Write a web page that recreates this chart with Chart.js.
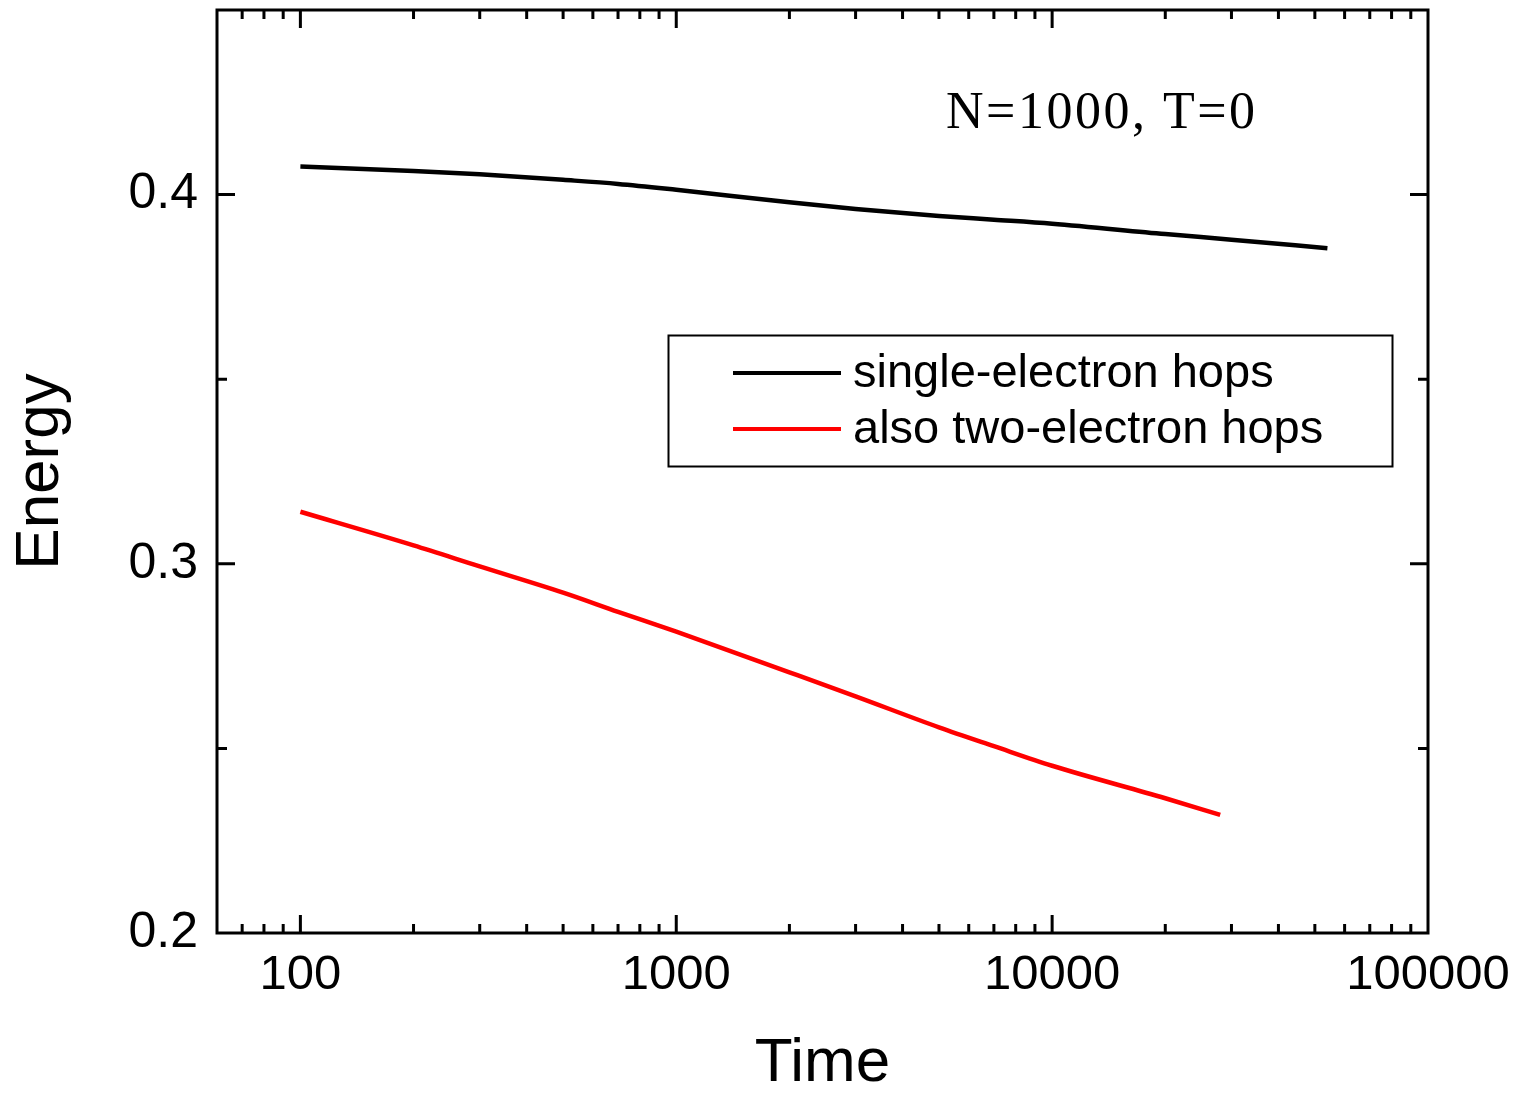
<!DOCTYPE html>
<html>
<head>
<meta charset="utf-8">
<script src="https://cdn.jsdelivr.net/npm/chart.js@4.4.1/dist/chart.umd.min.js"></script>
<style>
html,body{margin:0;padding:0;background:#fff;}
#wrap{width:1522px;height:1095px;position:relative;}
</style>
</head>
<body>
<div id="wrap"><canvas id="c" width="1522" height="1095"></canvas></div>
<script>
// ---- data ----
const timeSingle   = [100, 200, 300, 500, 700, 1000, 2000, 3000, 5000, 7000, 10000, 20000, 30000, 54000];
const energySingle = [0.4076, 0.4064, 0.4055, 0.4040, 0.4029, 0.4013, 0.3979, 0.3961, 0.3942, 0.3932, 0.3921, 0.3893, 0.3878, 0.3855];
const timeTwo      = [100, 200, 300, 500, 700, 1000, 2000, 3000, 5000, 7000, 10000, 20000, 28000];
const energyTwo    = [0.3141, 0.3050, 0.2993, 0.2922, 0.2870, 0.2816, 0.2706, 0.2641, 0.2557, 0.2506, 0.2453, 0.2365, 0.2320];
const seriesNames  = ['single-electron hops', 'also two-electron hops'];
const xTickLabels  = [100, 1000, 10000, 100000];
const xMinorTicks  = [60, 70, 80, 90, 200, 300, 400, 500, 600, 700, 800, 900,
                      2000, 3000, 4000, 5000, 6000, 7000, 8000, 9000,
                      20000, 30000, 40000, 50000, 60000, 70000, 80000, 90000];
const yTickLabels  = [0.2, 0.3, 0.4];
const yMinorTicks  = [0.25, 0.35];
const xTitle = 'Time';
const yTitle = 'Energy';
const annotationText = 'N=1000, T=0';

const SANS = '"Liberation Sans", Arial, sans-serif';
const SERIF = '"Liberation Serif", "Times New Roman", serif';

const frameTicks = {
  id: 'frameTicks',
  afterDatasetsDraw(chart) {
    const ctx = chart.ctx;
    const a = chart.chartArea;
    const xs = chart.scales.x, ys = chart.scales.y;
    ctx.save();
    ctx.strokeStyle = '#000';
    ctx.lineWidth = 3;
    ctx.lineCap = 'butt';
    ctx.strokeRect(a.left, a.top, a.right - a.left, a.bottom - a.top);
    ctx.beginPath();
    const xt = (vals, len) => vals.forEach(v => {
      const p = xs.getPixelForValue(v);
      if (p < a.left + 2 || p > a.right - 2) return;
      ctx.moveTo(p, a.bottom); ctx.lineTo(p, a.bottom - len);
      ctx.moveTo(p, a.top); ctx.lineTo(p, a.top + len);
    });
    const yt = (vals, len) => vals.forEach(v => {
      const p = ys.getPixelForValue(v);
      if (p < a.top + 2 || p > a.bottom - 2) return;
      ctx.moveTo(a.left, p); ctx.lineTo(a.left + len, p);
      ctx.moveTo(a.right, p); ctx.lineTo(a.right - len, p);
    });
    xt(xTickLabels, 18);
    xt(xMinorTicks, 9);
    yt(yTickLabels, 18);
    yt(yMinorTicks, 10);
    ctx.stroke();
    ctx.restore();
  }
};

const boxLegend = {
  id: 'boxLegend',
  afterDraw(chart) {
    const ctx = chart.ctx;
    ctx.save();
    ctx.strokeStyle = '#000';
    ctx.lineWidth = 2;
    ctx.strokeRect(668.5, 335.5, 724, 131);
    const rows = [374, 430];
    chart.data.datasets.forEach((ds, i) => {
      const y = rows[i];
      ctx.beginPath();
      ctx.strokeStyle = ds.borderColor;
      ctx.lineWidth = 4;
      ctx.moveTo(733, y - 1); ctx.lineTo(841, y - 1);
      ctx.stroke();
      ctx.fillStyle = '#000';
      ctx.font = '47px ' + SANS;
      ctx.textAlign = 'left';
      ctx.textBaseline = 'middle';
      ctx.fillText(ds.label, 853, y);
    });
    ctx.fillStyle = '#000';
    ctx.font = '52px ' + SERIF;
    try { ctx.letterSpacing = '2.5px'; } catch (e) {}
    ctx.textAlign = 'left';
    ctx.textBaseline = 'alphabetic';
    ctx.fillText(annotationText, 946, 128);
    ctx.restore();
  }
};

new Chart(document.getElementById('c'), {
  type: 'line',
  data: {
    datasets: [
      {
        label: seriesNames[0],
        data: timeSingle.map((t, i) => ({x: t, y: energySingle[i]})),
        borderColor: '#000000',
        backgroundColor: '#000000',
        borderWidth: 4.5,
        pointRadius: 0,
        cubicInterpolationMode: 'monotone',
        fill: false
      },
      {
        label: seriesNames[1],
        data: timeTwo.map((t, i) => ({x: t, y: energyTwo[i]})),
        borderColor: '#ff0000',
        backgroundColor: '#ff0000',
        borderWidth: 4.5,
        pointRadius: 0,
        cubicInterpolationMode: 'monotone',
        fill: false
      }
    ]
  },
  options: {
    responsive: false,
    animation: false,
    devicePixelRatio: 1,
    layout: { padding: { top: 10, right: 94, left: 0, bottom: 0 } },
    plugins: {
      legend: { display: false },
      tooltip: { enabled: false },
      title: { display: false }
    },
    scales: {
      x: {
        type: 'logarithmic',
        position: 'bottom',
        min: 60,
        max: 100000,
        grid: { display: false, drawTicks: false },
        border: { display: false },
        afterBuildTicks: s => { s.ticks = xTickLabels.map(v => ({value: v})); },
        afterFit: s => { s.height = 162; s.paddingLeft = 0; s.paddingRight = 0; },
        ticks: {
          autoSkip: false,
          maxRotation: 0,
          padding: 13,
          color: '#000',
          font: { family: SANS, size: 49 },
          callback: v => String(v)
        },
        title: {
          display: true,
          text: xTitle,
          color: '#000',
          font: { family: SANS, size: 62, lineHeight: 1 },
          padding: { top: 0, bottom: 0 }
        }
      },
      y: {
        type: 'linear',
        position: 'left',
        min: 0.2,
        max: 0.45,
        grid: { display: false, drawTicks: false },
        border: { display: false },
        afterBuildTicks: s => { s.ticks = yTickLabels.map(v => ({value: v})); },
        afterFit: s => { s.width = 217; s.paddingTop = 0; s.paddingBottom = 0; },
        ticks: {
          padding: 19,
          color: '#000',
          font: { family: SANS, size: 50 },
          callback: v => Number(v).toFixed(1)
        },
        title: {
          display: true,
          text: yTitle,
          color: '#000',
          font: { family: SANS, size: 62, lineHeight: 1 },
          padding: { top: 10, bottom: 0 }
        }
      }
    }
  },
  plugins: [frameTicks, boxLegend]
});
</script>
</body>
</html>
